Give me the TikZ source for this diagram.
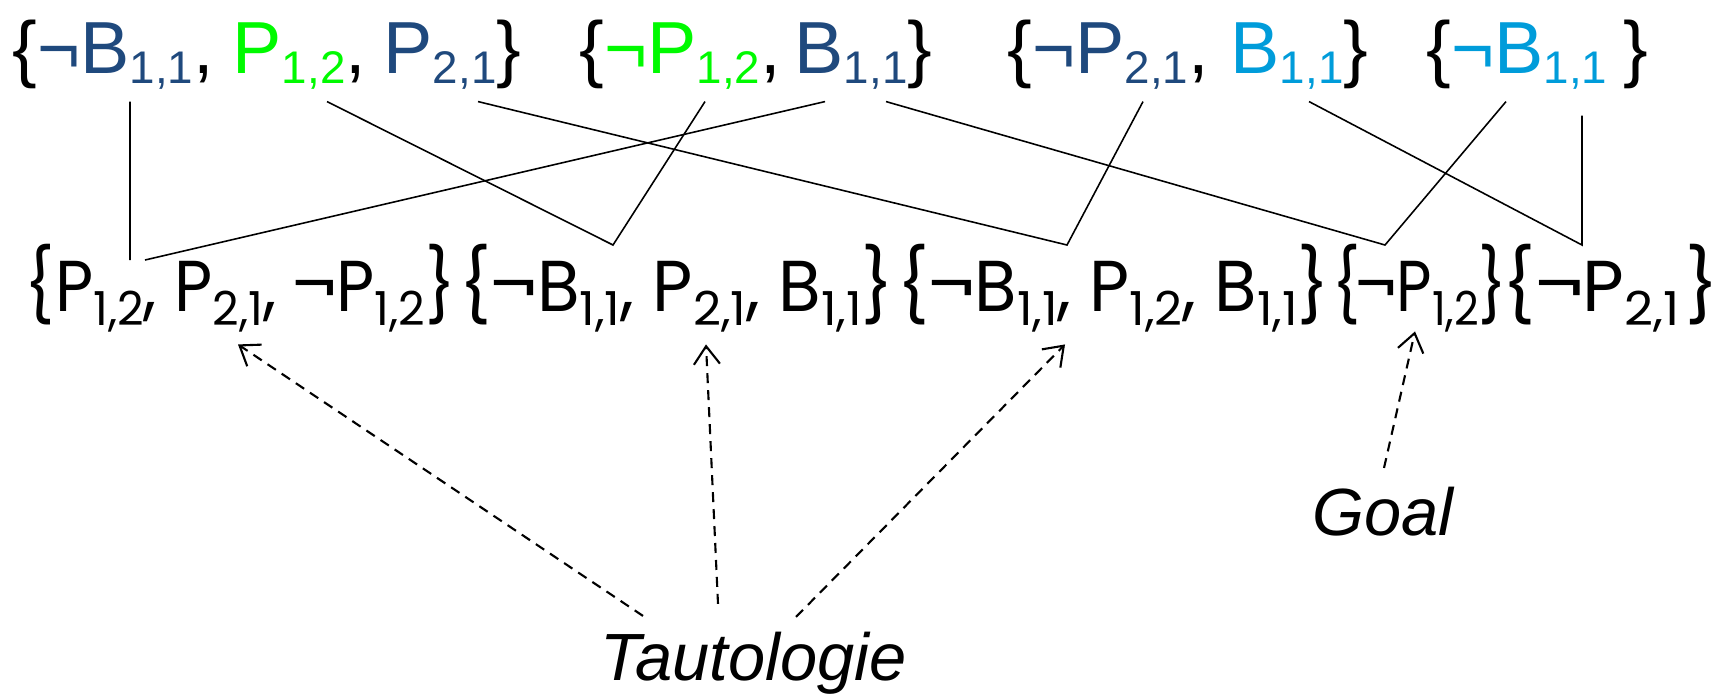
\documentclass[tikz,border=0pt]{standalone}
\usepackage{fontspec}
\setmainfont{Liberation Sans}
\newfontfamily\geofont{Poppins}
\usetikzlibrary{arrows.meta}
\definecolor{litnavy}{RGB}{31,73,125}
\definecolor{litgreen}{RGB}{0,250,0}
\definecolor{litcyan}{RGB}{0,156,218}
\newcommand{\ix}[1]{\raisebox{-1mm}{\scalebox{0.62}{#1}}}
\newcommand{\jx}[1]{\raisebox{-1.4mm}{\scalebox{0.7}[0.65]{#1}}}

\begin{document}
\begin{tikzpicture}[x=0.1mm,y=-0.1mm,
    lit/.style={anchor=base west,inner xsep=0pt,inner ysep=1.2mm,font=\fontsize{21}{21}\selectfont},
    res/.style={anchor=base west,inner xsep=0pt,inner ysep=1.2mm,font=\geofont\fontsize{20.5}{20.5}\selectfont},
    lbl/.style={anchor=base west,inner sep=0pt,font=\itshape\fontsize{19}{19}\selectfont},
    link/.style={line width=0.45pt},
    dep/.style={line width=0.6pt,dash pattern=on 1mm off 0.7mm,-{Straight Barb[length=1.8mm,width=2.6mm]}}]
        \useasboundingbox (0,0) rectangle (1717,694);
        \node[lit] (g1a) at (12,73) {\{\textcolor{litnavy}{¬B\ix{1,1}},};
        \node[lit] (g1b) at (232,73) {\textcolor{litgreen}{P\ix{1,2}},};
        \node[lit] (g1c) at (383,73) {\textcolor{litnavy}{P\ix{2,1}}\}};
        \node[lit] (g2a) at (579,73) {\{\textcolor{litgreen}{¬P\ix{1,2}},};
        \node[lit] (g2b) at (794,73) {\textcolor{litnavy}{B\ix{1,1}}\}};
        \node[lit] (g3a) at (1007,73) {\{\textcolor{litnavy}{¬P\ix{2,1}},};
        \node[lit] (g3b) at (1230,73) {\textcolor{litcyan}{B\ix{1,1}}\}};
        \node[lit] (g4a) at (1426,73) {\{\textcolor{litcyan}{¬B\ix{1,1}}\hspace{1.6mm}\}};
        \node[res] (r1) at (24,311) {\scalebox{0.915}[1]{\{P\jx{1,2}, P\jx{2,1}, ¬P\jx{1,2}\}}};
        \node[res] (r2) at (459,311) {\scalebox{0.965}[1]{\{¬B\jx{1,1}, P\jx{2,1}, B\jx{1,1}\}}};
        \node[res] (r3) at (897,311) {\scalebox{0.96}[1]{\{¬B\jx{1,1}, P\jx{1,2}, B\jx{1,1}\}}};
        \node[res] (r4) at (1332,311) {\scalebox{0.85}[1]{\{\kern-0.5mm¬P\jx{1,2}\}}};
        \node[res] (r5) at (1502,311) {\{¬P\jx{2,1}\hspace{0.6mm}\}};
        \node[lbl] (tau) at (600,680) {Tautologie};
        \node[lbl] (goal) at (1312,535) {Goal};
        \coordinate (j1) at (130,260);
        \coordinate (k1) at (145,260);
        \coordinate (j2) at (613,245);
        \coordinate (j3) at (1067,245);
        \coordinate (j4) at (1385,245);
        \coordinate (j5) at (1582,245);
        \draw[link] ([xshift=11.8mm]g1a.south west) -- (j1);
        \draw[link] ([xshift=3.1mm]g2b.south west) -- (k1);
        \draw[link] ([xshift=9.5mm]g1b.south west) -- (j2) -- ([xshift=12.6mm]g2a.south west);
        \draw[link] ([xshift=9.5mm]g1c.south west) -- (j3) -- ([xshift=13.6mm]g3a.south west);
        \draw[link] ([xshift=9.2mm]g2b.south west) -- (j4) -- ([xshift=8mm]g4a.south west);
        \draw[link] ([xshift=7.9mm]g3b.south west) -- (j5) -- ([xshift=15.6mm,yshift=-1.4mm]g4a.south west);
        \draw[dep] ([xshift=4.3mm,yshift=1.5mm]tau.north west) -- ([xshift=21.4mm]r1.south west);
        \draw[dep] ([xshift=11.8mm,yshift=2.7mm]tau.north west) -- ([xshift=24.7mm]r2.south west);
        \draw[dep] ([xshift=19.6mm,yshift=1.4mm]tau.north west) -- ([xshift=16.8mm]r3.south west);
        \draw[dep] ([xshift=7.2mm,yshift=1.8mm]goal.north west) -- ([xshift=8.3mm,yshift=1.3mm]r4.south west);
      \end{tikzpicture}
\end{document}
